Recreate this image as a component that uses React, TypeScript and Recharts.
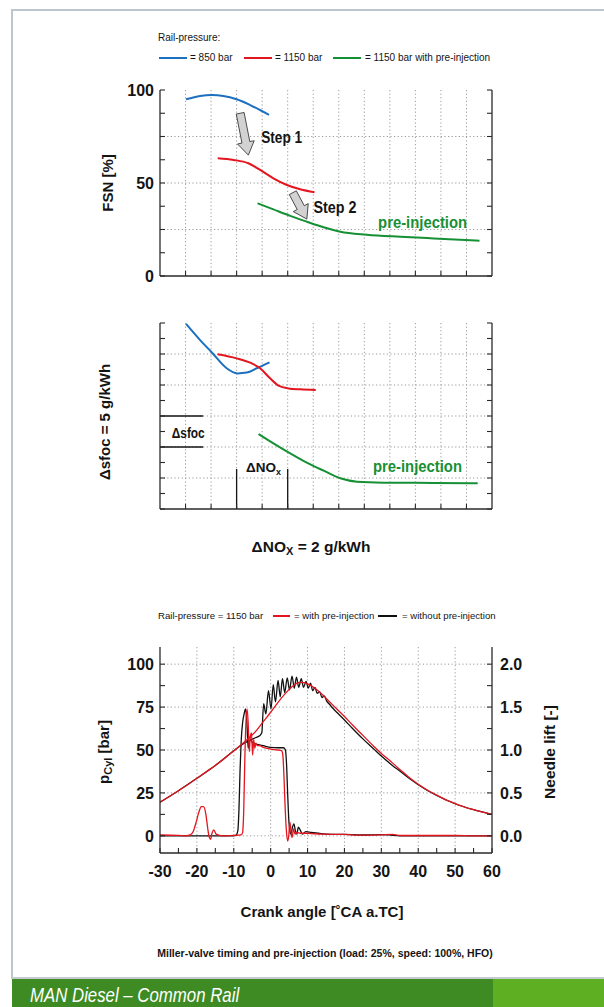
import React from 'react';
import { LineChart, Line, XAxis, YAxis, CartesianGrid, ReferenceLine, ReferenceDot } from 'recharts';

const FONT = "'Liberation Sans', Arial, sans-serif";
const INK = '#141414';
const BLUE = '#1d6fc0';
const RED = '#e3161f';
const GREEN = '#169034';
const GRID = '#9a9a9a';

// ---------- upper charts (x = ΔNOx steps) ----------
const stepDomain = [0, 13];
const stepTicks = [1, 2, 3, 4, 5, 6, 7, 8, 9, 10, 11, 12];

// FSN [%]
const fsnTicks = [0, 12.5, 25, 37.5, 50, 62.5, 75, 87.5, 100];
const fsnLabels = [0, 50, 100];
const fsnGrid = [25, 50, 75];

const fsn850X = [1.02, 1.57, 2.03, 2.48, 3.0, 3.53, 4.27];
const fsn850Y = [95.0, 96.8, 97.3, 96.8, 95.0, 91.9, 86.6];
const fsn1150X = [2.26, 2.88, 3.46, 3.92, 4.44, 4.97, 5.49, 6.05];
const fsn1150Y = [63.3, 62.4, 60.6, 57.0, 52.5, 48.9, 46.6, 45.0];
const fsnPreX = [3.82, 4.44, 5.1, 5.75, 6.41, 7.06, 8.1, 9.41, 10.72, 12.51];
const fsnPreY = [39.1, 35.8, 32.3, 29.2, 26.2, 23.8, 22.2, 21.1, 20.2, 19.0];

// Δsfoc (one tick = 1 unit)
const sfocTicks = [0, 1, 2, 3, 4, 5, 6, 7, 8, 9, 10, 11, 12];
const sfocGrid = [2, 4, 6, 8, 10];
const sfoc850X = [1.02, 1.57, 2.03, 2.61, 3.03, 3.4, 3.79, 4.29];
const sfoc850Y = [11.94, 10.9, 10.1, 9.08, 8.75, 8.8, 9.08, 9.46];
const sfoc1150X = [2.25, 3.0, 3.53, 3.92, 4.31, 4.64, 5.03, 5.49, 6.1];
const sfoc1150Y = [9.98, 9.72, 9.44, 9.08, 8.43, 7.96, 7.78, 7.72, 7.68];
const sfocPreX = [3.86, 4.44, 5.1, 5.75, 6.41, 7.06, 7.71, 8.76, 10.72, 12.44];
const sfocPreY = [4.84, 4.24, 3.59, 2.99, 2.47, 1.98, 1.76, 1.7, 1.68, 1.66];

// ---------- crank angle chart ----------
const caTicks = [-30, -25, -20, -15, -10, -5, 0, 5, 10, 15, 20, 25, 30, 35, 40, 45, 50, 55, 60];
const caLabels = [-30, -20, -10, 0, 10, 20, 30, 40, 50, 60];
const caGrid = [-20, -10, 0, 10, 20, 30, 40, 50];
const pTicks = [0, 12.5, 25, 37.5, 50, 62.5, 75, 87.5, 100];
const pLabels = [0, 25, 50, 75, 100];
const pGrid = [0, 25, 50, 75, 100];
const liftTicks = [0, 0.25, 0.5, 0.75, 1.0, 1.25, 1.5, 1.75, 2.0];
const liftLabels = [0, 0.5, 1.0, 1.5, 2.0];

// cylinder pressure with pre-injection [bar]
const pWithA = [-30, -27, -25, -22, -20, -17, -15, -12, -10, -8, -6, -4, -2, 0, 2, 4, 6, 7, 8, 9, 10, 12, 14, 16, 18, 20, 22, 25, 28, 30, 33, 35, 38, 40, 43, 45, 48, 50, 53, 55, 58, 60];
const pWithV = [19.6, 23.5, 26.3, 30.5, 33.5, 38, 41, 46, 49.5, 53, 56.8, 61, 66.5, 72, 77.8, 83, 87.3, 88.8, 89.4, 89.2, 88.5, 86, 82.3, 78, 73.7, 69.5, 65, 58.5, 52, 48, 42.5, 38.7, 33.2, 30, 26, 23.7, 20.5, 18.8, 16.5, 15.2, 13.5, 12.5];
// cylinder pressure without pre-injection [bar]
const pWithoutA = [-30, -25, -20, -15, -10, -8, -6, -5, -4, -3, -2.4, -1.9, -1.3, -0.6, 0.1, 0.7, 1.3, 2.0, 2.6, 3.2, 3.8, 4.5, 5.1, 5.8, 6.4, 7.0, 7.6, 8.3, 8.9, 9.6, 10.2, 10.8, 11.4, 12.0, 12.6, 13.3, 13.9, 14.5, 15.2, 16, 17, 18, 20, 22, 25, 28, 30, 33, 35, 38, 40, 45, 50, 55, 60];
const pWithoutV = [19.6, 26.3, 33.5, 41, 49.5, 52.8, 55.3, 56.3, 57.3, 58.3, 60, 77, 71, 84.5, 74, 88, 78, 90.5, 81, 91.5, 83.5, 92, 85, 93, 86, 92.5, 86.5, 91.5, 86.5, 90, 86, 89, 84.5, 86.5, 83, 84, 80.5, 81.5, 78.5, 76.5, 74, 71.8, 67.5, 63, 56.5, 50.5, 46.5, 41, 37.8, 32.8, 29.8, 23.5, 18.7, 15.2, 12.5];
// needle lift with pre-injection [-]
const liftWithA = [-30, -25, -23, -21.8, -21, -20.2, -19.5, -18.8, -18.2, -17.6, -17.1, -16.7, -16.3, -15.9, -15.4, -14.8, -13, -10, -8, -7.6, -7.3, -7.0, -6.7, -6.4, -6.1, -5.8, -5.5, -5.2, -4.9, -4.6, -4.3, -4.0, -3.6, -3, -2, 0, 2, 3, 3.3, 3.6, 3.9, 4.2, 4.6, 4.9, 5.2, 5.5, 5.8, 6.2, 6.6, 7.2, 8, 10, 12, 15, 20, 25, 30, 33, 35, 40, 50, 55, 60];
const liftWithV = [0.01, 0.006, 0, 0.01, 0.05, 0.16, 0.27, 0.34, 0.34, 0.26, 0.1, -0.01, -0.04, 0.03, 0.07, 0.02, 0, 0.006, 0.01, 0.04, 0.3, 0.9, 1.32, 1.48, 1.32, 0.98, 1.16, 1.2, 0.94, 1.12, 1.02, 1.08, 1.05, 1.05, 1.03, 1.01, 1.0, 0.99, 0.94, 0.7, 0.36, 0.1, -0.06, 0, 0.16, 0.06, -0.02, 0.08, 0.02, 0.04, 0.03, 0.03, 0.024, 0.02, 0.016, 0.008, 0.012, 0.016, 0.004, 0.004, 0.004, 0, 0];
// needle lift without pre-injection [-]
const liftWithoutA = [-30, -10, -9.3, -8.9, -8.6, -8.3, -8.0, -7.6, -7.2, -6.8, -6.4, -6.1, -5.8, -5.4, -5, -4, -3, -2, 0, 2, 3.5, 4.0, 4.3, 4.6, 4.9, 5.2, 5.5, 5.9, 6.3, 6.7, 7.1, 7.5, 8, 8.6, 9.5, 11, 13, 15, 20, 25, 30, 32, 35, 60];
const liftWithoutV = [0, 0, 0.01, 0.06, 0.3, 0.76, 1.1, 1.32, 1.42, 1.48, 1.28, 1.02, 1.1, 1.12, 1.09, 1.07, 1.06, 1.05, 1.03, 1.026, 1.026, 1.0, 0.84, 0.5, 0.2, 0.06, 0.02, 0.1, 0.14, 0.06, 0.02, 0.1, 0.07, 0.02, 0.05, 0.04, 0.03, 0.02, 0.016, 0.01, 0.014, 0.01, 0, 0];

const pts = (xs: number[], ys: number[]) => xs.map((x, i) => ({ x, y: ys[i] }));

const tickFont = { fontSize: 16, fontWeight: 700, fill: INK, fontFamily: FONT };
const axisLine = { stroke: '#2a2a2a', strokeWidth: 1.3 };
const tickLine = { stroke: '#2a2a2a', strokeWidth: 1.1 };
const blank = () => '';

const only = (list: number[], digits = 0) => (v: number) =>
  list.some((l) => Math.abs(l - v) < 1e-6) ? v.toFixed(digits) : '';

const BlockArrow = (p: any) => {
  const { x1, y1, x2, y2 } = p;
  const dx = x2 - x1;
  const dy = y2 - y1;
  const len = Math.hypot(dx, dy) || 1;
  const ux = dx / len;
  const uy = dy / len;
  const nx = -uy;
  const ny = ux;
  const head = 13;
  const sw = 4;
  const hw = 8.5;
  const bx = x2 - ux * head;
  const by = y2 - uy * head;
  const q = [
    [x1 + nx * sw, y1 + ny * sw],
    [bx + nx * sw, by + ny * sw],
    [bx + nx * hw, by + ny * hw],
    [x2, y2],
    [bx - nx * hw, by - ny * hw],
    [bx - nx * sw, by - ny * sw],
    [x1 - nx * sw, y1 - ny * sw],
  ];
  return <polygon points={q.map((c) => c.join(',')).join(' ')} fill="#d2d2d2" stroke="#3a3a3a" strokeWidth={0.9} />;
};

// condensed look: squeeze the text to the width it has in the original
const textShape = (content: React.ReactNode, color: string, size: number, fit?: number) => (p: any) => (
  <text x={p.cx} y={p.cy} dy="0.36em" fill={color} fontSize={size} fontWeight={700} fontFamily={FONT}
    textLength={fit} lengthAdjust={fit ? 'spacingAndGlyphs' : undefined}>
    {content}
  </text>
);

const Txt = ({ x, y, children, size = 10, weight = 400, anchor = 'start', rotate = false, color = INK, italic = false, sx = 1 }: any) => {
  let transform = anchor === 'middle' ? `translate(-50%, -50%) scaleX(${sx})` : `translate(0, -50%) scaleX(${sx})`;
  let origin = anchor === 'middle' ? 'center' : 'left center';
  if (rotate) {
    transform = 'translate(-50%, -50%) rotate(-90deg)';
    origin = 'center';
  }
  return (
    <div
      style={{
        position: 'absolute', left: x, top: y, transform, transformOrigin: origin,
        whiteSpace: 'nowrap', fontSize: size, fontWeight: weight, color, fontStyle: italic ? 'italic' : 'normal',
        lineHeight: 1, fontFamily: FONT,
      }}
    >
      {children}
    </div>
  );
};

const Swatch = ({ x, y, w, color }: any) => (
  <div style={{ position: 'absolute', left: x, top: y - 1, width: w, height: 2, background: color }} />
);

function stepAxes(yDomain: number[], yTicks: number[], fmt: (v: number) => string) {
  return [
    <XAxis key="xb" xAxisId={0} type="number" dataKey="x" domain={stepDomain} ticks={stepTicks} interval={0} allowDataOverflow
      height={20} tickSize={-5} tickFormatter={blank} axisLine={axisLine} tickLine={tickLine} />,
    <XAxis key="xt" xAxisId="top" orientation="top" type="number" dataKey="x" domain={stepDomain} ticks={stepTicks} interval={0}
      allowDataOverflow height={0} tickSize={-5} tickFormatter={blank} axisLine={axisLine} tickLine={tickLine} />,
    <YAxis key="yl" yAxisId={0} type="number" domain={yDomain} ticks={yTicks} interval={0} allowDataOverflow width={60}
      tickSize={-5} tickMargin={11} tick={tickFont} tickFormatter={fmt} axisLine={axisLine} tickLine={tickLine} />,
    <YAxis key="yr" yAxisId="r" orientation="right" type="number" domain={yDomain} ticks={yTicks} interval={0} allowDataOverflow
      width={60} tickSize={-5} tickFormatter={blank} axisLine={axisLine} tickLine={tickLine} />,
  ];
}

const seriesLine = (key: string, data: any[], color: string, width = 2) => (
  <Line key={key} data={data} dataKey="y" type="monotone" stroke={color} strokeWidth={width} dot={false}
    activeDot={false} isAnimationActive={false} />
);

function FsnChart() {
  return (
    <LineChart width={604} height={300} margin={{ top: 90, right: 52, bottom: 4, left: 100 }}>
      <CartesianGrid stroke={GRID} strokeDasharray="1.2 2.4" verticalValues={stepTicks} horizontalValues={fsnGrid} />
      {stepAxes([0, 100], fsnTicks, only(fsnLabels))}
      {seriesLine('b', pts(fsn850X, fsn850Y), BLUE)}
      {seriesLine('r', pts(fsn1150X, fsn1150Y), RED)}
      {seriesLine('g', pts(fsnPreX, fsnPreY), GREEN)}
      <ReferenceLine segment={[{ x: 3.14, y: 87.5 }, { x: 3.46, y: 65 }]} shape={BlockArrow} />
      <ReferenceLine segment={[{ x: 5.2, y: 44.8 }, { x: 5.75, y: 30.6 }]} shape={BlockArrow} />
      <ReferenceDot x={3.96} y={74.4} r={0} shape={textShape('Step 1', INK, 16, 41)} />
      <ReferenceDot x={6.01} y={36.9} r={0} shape={textShape('Step 2', INK, 16, 43)} />
      <ReferenceDot x={8.54} y={28.7} r={0} shape={textShape('pre-injection', GREEN, 16, 89)} />
    </LineChart>
  );
}

function SfocChart() {
  return (
    <LineChart width={604} height={260} margin={{ top: 23, right: 52, bottom: 31, left: 100 }}>
      <CartesianGrid stroke={GRID} strokeDasharray="1.2 2.4" verticalValues={stepTicks} horizontalValues={sfocGrid} />
      {stepAxes([0, 12], sfocTicks, blank)}
      {seriesLine('b', pts(sfoc850X, sfoc850Y), BLUE)}
      {seriesLine('r', pts(sfoc1150X, sfoc1150Y), RED)}
      {seriesLine('g', pts(sfocPreX, sfocPreY), GREEN)}
      <ReferenceLine segment={[{ x: 0, y: 6 }, { x: 1.69, y: 6 }]} stroke={INK} strokeWidth={1.3} />
      <ReferenceLine segment={[{ x: 0, y: 4 }, { x: 1.69, y: 4 }]} stroke={INK} strokeWidth={1.3} />
      <ReferenceLine segment={[{ x: 3, y: 0 }, { x: 3, y: 2.58 }]} stroke={INK} strokeWidth={1.3} />
      <ReferenceLine segment={[{ x: 5, y: 0 }, { x: 5, y: 2.58 }]} stroke={INK} strokeWidth={1.3} />
      <ReferenceDot x={0.46} y={4.92} r={0} shape={textShape('Δsfoc', INK, 15, 33)} />
      <ReferenceDot x={3.37} y={2.69} r={0}
        shape={textShape(<>ΔNO<tspan fontSize={9} dy={3}>x</tspan></>, INK, 13.5)} />
      <ReferenceDot x={8.34} y={2.73} r={0} shape={textShape('pre-injection', GREEN, 16, 89)} />
    </LineChart>
  );
}

function CrankChart() {
  return (
    <LineChart width={604} height={300} margin={{ top: 47, right: 52, bottom: 17, left: 100 }}>
      <CartesianGrid stroke={GRID} strokeDasharray="1.2 2.4" verticalValues={caGrid} horizontalValues={pGrid} />
      <XAxis xAxisId={0} type="number" dataKey="x" domain={[-30, 60]} ticks={caTicks} interval={0} allowDataOverflow height={30}
        tickSize={-5} tickMargin={18} tick={tickFont} tickFormatter={only(caLabels)} axisLine={axisLine} tickLine={tickLine} />
      <XAxis xAxisId="top" orientation="top" type="number" dataKey="x" domain={[-30, 60]} ticks={caTicks} interval={0}
        allowDataOverflow height={0} tickSize={-5} tickFormatter={blank} axisLine={axisLine} tickLine={tickLine} />
      <YAxis yAxisId={0} type="number" domain={[-10, 110]} ticks={pTicks} interval={0} allowDataOverflow width={60}
        tickSize={-5} tickMargin={11} tick={tickFont} tickFormatter={only(pLabels)} axisLine={axisLine} tickLine={tickLine} />
      <YAxis yAxisId="r" orientation="right" type="number" domain={[-0.2, 2.2]} ticks={liftTicks} interval={0} allowDataOverflow
        width={60} tickSize={-5} tickMargin={13} tick={tickFont} tickFormatter={only(liftLabels, 1)} axisLine={axisLine}
        tickLine={tickLine} />
      <Line data={pts(pWithoutA, pWithoutV)} dataKey="y" type="monotone" stroke="#111" strokeWidth={1.3} dot={false}
        activeDot={false} isAnimationActive={false} />
      <Line yAxisId="r" data={pts(liftWithoutA, liftWithoutV)} dataKey="y" type="monotone" stroke="#111" strokeWidth={1.3}
        dot={false} activeDot={false} isAnimationActive={false} />
      <Line data={pts(pWithA, pWithV)} dataKey="y" type="monotone" stroke={RED} strokeWidth={1.3} dot={false}
        activeDot={false} isAnimationActive={false} />
      <Line yAxisId="r" data={pts(liftWithA, liftWithV)} dataKey="y" type="monotone" stroke={RED} strokeWidth={1.3}
        dot={false} activeDot={false} isAnimationActive={false} />
    </LineChart>
  );
}

export default function App() {
  return (
    <div style={{ position: 'absolute', left: 0, top: 0, width: 604, height: 1007, background: '#fff', overflow: 'hidden', fontFamily: FONT }}>
      {/* page frame */}
      <div style={{ position: 'absolute', left: 11, top: 9, width: 593, height: 2, background: '#bcc7cd' }} />
      <div style={{ position: 'absolute', left: 11, top: 9, width: 2, height: 970, background: '#bcc7cd' }} />
      <div style={{ position: 'absolute', left: 11, top: 977, width: 593, height: 2, background: '#c3cbd0' }} />
      <div style={{ position: 'absolute', left: 12, top: 979, width: 481, height: 28, background: '#3d8b22' }} />
      <div style={{ position: 'absolute', left: 493, top: 979, width: 111, height: 28, background: '#5eb022' }} />
      <Txt x={30} y={994} size={21} italic color="#fff" sx={0.8}>MAN Diesel – Common Rail</Txt>

      {/* legend 1 */}
      <Txt x={158} y={38}>Rail-pressure:</Txt>
      <Swatch x={159} y={58} w={28} color={BLUE} />
      <Txt x={190} y={58}>= 850 bar</Txt>
      <Swatch x={244} y={58} w={28} color={RED} />
      <Txt x={275} y={58}>= 1150 bar</Txt>
      <Swatch x={333} y={58} w={28} color={GREEN} />
      <Txt x={365} y={58}>= 1150 bar with pre-injection</Txt>

      <div style={{ position: 'absolute', left: 0, top: 0 }}><FsnChart /></div>
      <div style={{ position: 'absolute', left: 0, top: 300 }}><SfocChart /></div>
      <div style={{ position: 'absolute', left: 0, top: 600 }}><CrankChart /></div>

      <Txt x={107} y={183} size={15} weight={700} rotate>FSN [%]</Txt>
      <Txt x={104} y={422} size={15} weight={700} rotate>Δsfoc = 5 g/kWh</Txt>
      <Txt x={311} y={548} size={15.5} weight={700} anchor="middle">
        ΔNO<span style={{ fontSize: 11, verticalAlign: -3 }}>X</span> = 2 g/kWh
      </Txt>

      {/* legend 2 */}
      <Txt x={158} y={616} size={9.6}>Rail-pressure = 1150 bar</Txt>
      <Swatch x={273} y={616} w={17} color={RED} />
      <Txt x={294} y={616} size={9.6}>= with pre-injection</Txt>
      <Swatch x={378} y={616} w={19} color="#111" />
      <Txt x={402} y={616} size={9.6}>= without pre-injection</Txt>

      <Txt x={105} y={752} size={15} weight={700} rotate>
        p<span style={{ fontSize: 11, verticalAlign: -3 }}>Cyl</span> [bar]
      </Txt>
      <Txt x={550} y={752} size={15.5} weight={700} rotate>Needle lift [-]</Txt>
      <Txt x={322} y={911} size={15} weight={700} anchor="middle">Crank angle [˚CA a.TC]</Txt>
      <Txt x={325} y={953} size={10.5} weight={700} anchor="middle">
        Miller-valve timing and pre-injection (load: 25%, speed: 100%, HFO)
      </Txt>
    </div>
  );
}
